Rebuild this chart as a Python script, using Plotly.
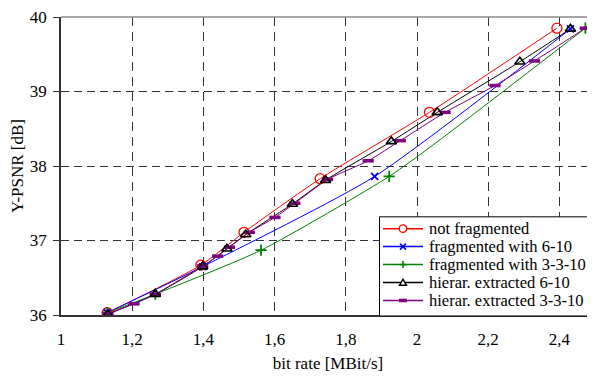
import plotly.graph_objects as go

# ---- data ----
red_x = [1.13, 1.393, 1.514, 1.728, 2.035, 2.393]
red_y = [36.03, 36.67, 37.11, 37.83, 38.72, 39.85]

blue_x = [1.13, 1.398, 1.881, 2.431]
blue_y = [36.03, 36.65, 37.86, 39.84]

green_x = [1.13, 1.265, 1.562, 1.922, 2.05, 2.473]
green_y = [36.03, 36.28, 36.87, 37.86, 38.30, 39.85]
green_marked = [0, 1, 2, 3, 5]

black_x = [1.132, 1.265, 1.398, 1.466, 1.519, 1.650, 1.743, 1.928, 2.057, 2.289, 2.431]
black_y = [36.01, 36.28, 36.65, 36.89, 37.08, 37.49, 37.81, 38.33, 38.72, 39.40, 39.84]

purple_x = [1.132, 1.205, 1.265, 1.398, 1.44, 1.473, 1.529, 1.601, 1.657, 1.749, 1.863,
            1.953, 2.079, 2.219, 2.33, 2.473]
purple_y = [36.02, 36.15, 36.28, 36.66, 36.79, 36.91, 37.11, 37.31, 37.50, 37.82, 38.07,
            38.34, 38.72, 39.08, 39.41, 39.85]

names = ["not fragmented", "fragmented with 6-10", "fragmented with 3-3-10",
         "hierar. extracted 6-10", "hierar. extracted 3-3-10"]

x_ticks = [1, 1.2, 1.4, 1.6, 1.8, 2, 2.2, 2.4]
x_ticktext = ["1", "1,2", "1,4", "1,6", "1,8", "2", "2,2", "2,4"]
y_ticks = [36, 37, 38, 39, 40]

FONT = "Liberation Serif"
colors = ["#FF0000", "#0000FF", "#008000", "#000000", "#800080"]
symbols = ["circle", "x", "cross", "triangle", "bar"]

series = [
    dict(x=red_x, y=red_y, mk=list(range(len(red_x))),
         marker=dict(symbol="circle-open", size=10, color=colors[0],
                     line=dict(width=1.3, color=colors[0]))),
    dict(x=blue_x, y=blue_y, mk=list(range(len(blue_x))),
         marker=dict(symbol="x-thin", size=7, color=colors[1],
                     line=dict(width=1.8, color=colors[1]))),
    dict(x=green_x, y=green_y, mk=green_marked,
         marker=dict(symbol="cross-thin", size=8, color=colors[2],
                     line=dict(width=1.8, color=colors[2]))),
    dict(x=black_x, y=black_y, mk=list(range(len(black_x))),
         marker=dict(symbol="triangle-up-open", size=9, color=colors[3],
                     line=dict(width=1.6, color=colors[3]))),
    dict(x=purple_x, y=purple_y, mk=list(range(len(purple_x))),
         marker=dict(symbol="line-ew", size=8, color=colors[4],
                     line=dict(width=3.5, color=colors[4]))),
]

fig = go.Figure()

# lines first
for name, s, c in zip(names, series, colors):
    fig.add_trace(go.Scatter(
        x=s["x"], y=s["y"], mode="lines", name=name, legendgroup=name,
        line=dict(color=c, width=1, shape="spline", smoothing=0.6),
        showlegend=False, hoverinfo="skip"))
# then markers (triangles last so they stay visible)
for k in [0, 1, 2, 4, 3]:
    s = series[k]
    fig.add_trace(go.Scatter(
        x=[s["x"][i] for i in s["mk"]], y=[s["y"][i] for i in s["mk"]],
        mode="markers", name=names[k], legendgroup=names[k], marker=s["marker"],
        showlegend=False))

# ---- hand-drawn legend (compact row spacing like the original) ----
PL, PR, PT, PB = 61, 595, 13, 315  # plot area in page pixels


def px(xp):
    return (xp - PL) / (PR - PL)


def py(yp):
    return (PB - yp) / (PB - PT)


shapes = [dict(type="line", xref="paper", yref="paper", x0=0, x1=1, y0=1, y1=1,
               line=dict(color="#888888", width=1.5), layer="above")]
annotations = []

shapes.append(dict(type="rect", xref="paper", yref="paper",
                   x0=px(379.5), x1=px(600), y0=py(316), y1=py(215.5),
                   line=dict(color="#000000", width=1), fillcolor="white", layer="above"))

row0, drow = 227.5, 18.2
for i, (name, c, sym) in enumerate(zip(names, colors, symbols)):
    cy = row0 + drow * i
    mx = 403
    shapes.append(dict(type="line", xref="paper", yref="paper",
                       x0=px(383), x1=px(423), y0=py(cy), y1=py(cy),
                       line=dict(color=c, width=1.5), layer="above"))
    if sym == "circle":
        r = 3.8
        shapes.append(dict(type="circle", xref="paper", yref="paper",
                           x0=px(mx - r), x1=px(mx + r), y0=py(cy + r), y1=py(cy - r),
                           line=dict(color=c, width=1.3), fillcolor="white", layer="above"))
    elif sym == "x":
        r = 3
        for d in (1, -1):
            shapes.append(dict(type="line", xref="paper", yref="paper",
                               x0=px(mx - r), x1=px(mx + r), y0=py(cy - d * r), y1=py(cy + d * r),
                               line=dict(color=c, width=1.6), layer="above"))
    elif sym == "cross":
        r = 3.5
        shapes.append(dict(type="line", xref="paper", yref="paper",
                           x0=px(mx - r), x1=px(mx + r), y0=py(cy), y1=py(cy),
                           line=dict(color=c, width=1.6), layer="above"))
        shapes.append(dict(type="line", xref="paper", yref="paper",
                           x0=px(mx), x1=px(mx), y0=py(cy - r), y1=py(cy + r),
                           line=dict(color=c, width=1.6), layer="above"))
    elif sym == "triangle":
        r = 3.5
        path = "M {} {} L {} {} L {} {} Z".format(
            px(mx - r), py(cy + r * 0.8), px(mx + r), py(cy + r * 0.8), px(mx), py(cy - r))
        shapes.append(dict(type="path", xref="paper", yref="paper", path=path,
                           line=dict(color=c, width=1.4), fillcolor="white", layer="above"))
    else:
        shapes.append(dict(type="rect", xref="paper", yref="paper",
                           x0=px(mx - 4), x1=px(mx + 4), y0=py(cy + 1.8), y1=py(cy - 1.8),
                           line=dict(color=c, width=0), fillcolor=c, layer="above"))
    annotations.append(dict(xref="paper", yref="paper", x=px(427), y=py(cy),
                            xanchor="left", yanchor="middle", showarrow=False, text=name,
                            font=dict(family=FONT, size=16.5, color="#000000")))

# the page body has an 8px margin, so the figure is sized/offset to compensate
fig.update_layout(
    width=587, height=368,
    margin=dict(l=53, r=0, t=5, b=61),
    paper_bgcolor="white", plot_bgcolor="white",
    font=dict(family=FONT, size=17, color="#000000"),
    showlegend=False,
    xaxis=dict(
        range=[1, 2.5], tickvals=x_ticks, ticktext=x_ticktext,
        showgrid=True, gridcolor="#333333", gridwidth=1, griddash="9px,6px",
        showline=True, linecolor="#333333", linewidth=2,
        ticks="", ticklabelstandoff=8, zeroline=False, ticklabeloverflow="allow",
        tickfont=dict(family=FONT, size=17),
        title=dict(text="bit rate [MBit/s]", font=dict(family=FONT, size=17), standoff=9),
    ),
    yaxis=dict(
        range=[36, 40], tickvals=y_ticks,
        showgrid=True, gridcolor="#333333", gridwidth=1, griddash="8px,5px",
        showline=True, linecolor="#333333", linewidth=1.5,
        ticks="outside", ticklen=6, tickcolor="#333333", zeroline=False,
        ticklabelstandoff=3, ticklabeloverflow="allow", tickfont=dict(family=FONT, size=17),
        title=dict(text="Y-PSNR [dB]", font=dict(family=FONT, size=17), standoff=6),
    ),
    shapes=shapes,
    annotations=annotations,
)

fig.write_html("out.html")
